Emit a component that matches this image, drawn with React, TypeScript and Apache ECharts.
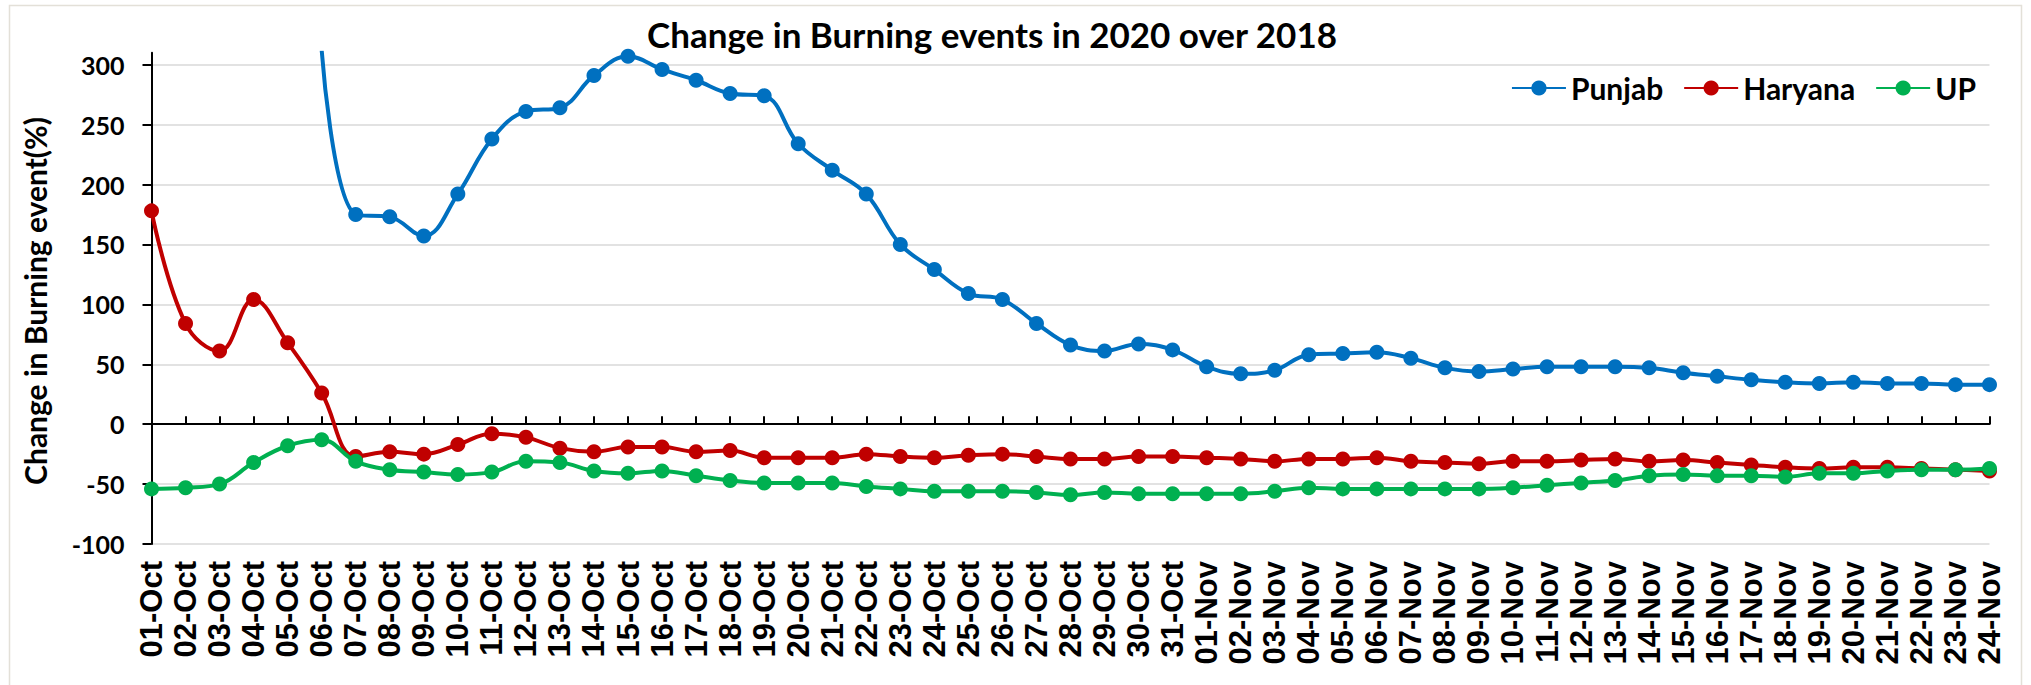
import React, { useEffect, useRef } from 'react';
import * as echarts from 'echarts';

const categories = [
  '01-Oct', '02-Oct', '03-Oct', '04-Oct', '05-Oct', '06-Oct', '07-Oct', '08-Oct', '09-Oct', '10-Oct',
  '11-Oct', '12-Oct', '13-Oct', '14-Oct', '15-Oct', '16-Oct', '17-Oct', '18-Oct', '19-Oct', '20-Oct',
  '21-Oct', '22-Oct', '23-Oct', '24-Oct', '25-Oct', '26-Oct', '27-Oct', '28-Oct', '29-Oct', '30-Oct',
  '31-Oct', '01-Nov', '02-Nov', '03-Nov', '04-Nov', '05-Nov', '06-Nov', '07-Nov', '08-Nov', '09-Nov',
  '10-Nov', '11-Nov', '12-Nov', '13-Nov', '14-Nov', '15-Nov', '16-Nov', '17-Nov', '18-Nov', '19-Nov',
  '20-Nov', '21-Nov', '22-Nov', '23-Nov', '24-Nov',
];

const punjab = [
  null, null, null, null, null, 312, 175, 173, 157, 192,
  238, 261, 264, 291, 307, 296, 287, 276, 274, 234,
  212, 192, 150, 129, 109, 104, 84, 66, 61, 67,
  62, 48, 42, 45, 58, 59, 60, 55, 47, 44,
  46, 48, 48, 48, 47, 43, 40, 37, 35, 34,
  35, 34, 34, 33, 33,
];

const haryana = [
  178, 84, 61, 104, 68, 26, -27, -23, -25, -17,
  -8, -11, -20, -23, -19, -19, -23, -22, -28, -28,
  -28, -25, -27, -28, -26, -25, -27, -29, -29, -27,
  -27, -28, -29, -31, -29, -29, -28, -31, -32, -33,
  -31, -31, -30, -29, -31, -30, -32, -34, -36, -37,
  -36, -36, -37, -38, -39,
];

const up = [
  -54, -53, -50, -32, -18, -13, -31, -38, -40, -42,
  -40, -31, -32, -39, -41, -39, -43, -47, -49, -49,
  -49, -52, -54, -56, -56, -56, -57, -59, -57, -58,
  -58, -58, -58, -56, -53, -54, -54, -54, -54, -54,
  -53, -51, -49, -47, -43, -42, -43, -43, -44, -41,
  -41, -39, -38, -38, -37,
];

const yTicks = [-100, -50, 0, 50, 100, 150, 200, 250, 300];

const seriesNames = ['Punjab', 'Haryana', 'UP'];
const seriesColors = ['#0070C0', '#C00000', '#00B050'];

const TITLE = 'Change in Burning events in 2020 over 2018';
const Y_NAME = 'Change in Burning event(%)';

export default function App() {
  const ref = useRef<HTMLDivElement>(null);

  useEffect(() => {
    if (!ref.current) return;
    const chart = echarts.init(ref.current, null, { renderer: 'svg' });
    const dataSets = [punjab, haryana, up];
    const gridColors = yTicks.map(() => '#d9d9d9').concat(['rgba(0,0,0,0)']);

    const option: any = {
      animation: false,
      backgroundColor: '#ffffff',
      title: {
        text: TITLE,
        left: 992,
        top: 16,
        padding: 0,
        textAlign: 'center',
        textStyle: { fontFamily: 'Lato', fontWeight: 'bold', fontSize: 35, color: '#000' },
      },
      legend: {
        data: seriesNames,
        right: 50,
        top: 68,
        itemWidth: 54,
        itemHeight: 19,
        itemGap: 20,
        textStyle: { fontFamily: 'Lato', fontWeight: 'bold', fontSize: 30, color: '#000' },
      },
      grid: { left: 151.5, right: 41.5, top: 52.7, bottom: 141, containLabel: false },
      xAxis: [
        {
          type: 'category',
          data: categories,
          boundaryGap: false,
          position: 'bottom',
          axisLine: { show: false, onZero: false },
          axisTick: { show: false },
          splitLine: { show: false },
          axisLabel: {
            interval: 0,
            rotate: 90,
            margin: 17,
            fontFamily: 'Liberation Sans',
            fontWeight: 'bold',
            fontSize: 31,
            color: '#000',
          },
        },
        {
          type: 'category',
          data: categories,
          boundaryGap: false,
          position: 'top',
          axisLine: { show: true, onZero: true, lineStyle: { color: '#000', width: 2.2 } },
          axisTick: { show: true, interval: 0, inside: false, length: 8, lineStyle: { color: '#000', width: 2 } },
          axisLabel: { show: false },
          splitLine: { show: false },
        },
      ],
      yAxis: {
        type: 'value',
        min: -100,
        max: 310,
        interval: 50,
        axisLine: { show: true, lineStyle: { color: '#000', width: 2 } },
        axisTick: { show: true, length: 9, customValues: yTicks, lineStyle: { color: '#000', width: 2 } },
        axisLabel: {
          customValues: yTicks,
          margin: 27,
          fontFamily: 'Lato',
          fontWeight: 'bold',
          fontSize: 25,
          color: '#000',
          formatter: (v: number) => (v === 310 ? '' : String(v)),
        },
        splitLine: {
          show: true,
          customValues: yTicks,
          lineStyle: { color: gridColors, width: 1.5 },
        },
      },
      graphic: [
        {
          type: 'rect',
          silent: true,
          z: -10,
          shape: { x: 9.5, y: 5.5, width: 2012, height: 700 },
          style: { fill: 'none', stroke: '#e3e0d8', lineWidth: 1.5 },
        },
        {
          type: 'text',
          x: 35,
          y: 301,
          rotation: Math.PI / 2,
          style: {
            text: Y_NAME,
            fontFamily: 'Lato',
            fontWeight: 'bold',
            fontSize: 30,
            fill: '#000',
            align: 'center',
            verticalAlign: 'middle',
          },
        },
      ],
      series: seriesNames.map((name, i) => ({
        name,
        type: 'line',
        data: dataSets[i],
        xAxisIndex: 0,
        yAxisIndex: 0,
        smooth: 0.4,
        connectNulls: false,
        clip: true,
        symbol: 'circle',
        symbolSize: 15,
        lineStyle: { width: 4, color: seriesColors[i] },
        itemStyle: { color: seriesColors[i] },
        z: 2 + i,
      })),
    };

    chart.setOption(option);
    return () => chart.dispose();
  }, []);

  return (
    <div
      ref={ref}
      style={{ position: 'absolute', left: 0, top: 0, width: 2031, height: 685, background: '#fff' }}
    />
  );
}
